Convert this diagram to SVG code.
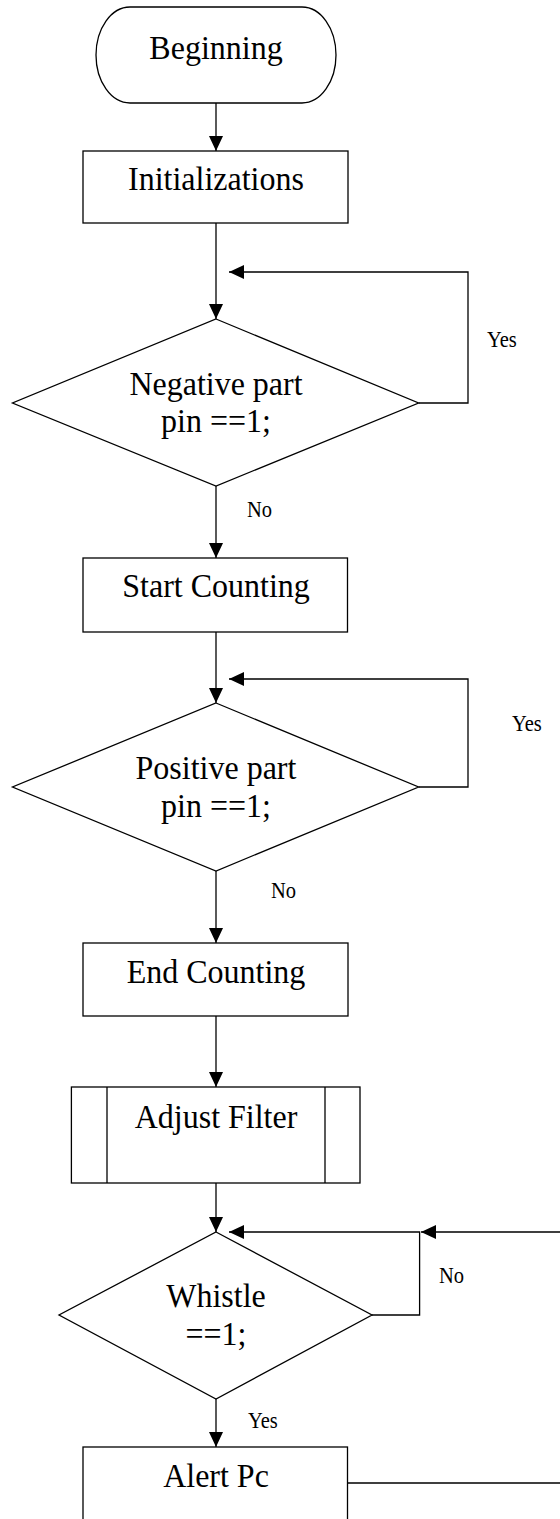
<svg xmlns="http://www.w3.org/2000/svg" width="560" height="1519" viewBox="0 0 560 1519">
<style>
.s{fill:#fff;stroke:#000;stroke-width:1.3}
.c{fill:none;stroke:#000;stroke-width:1.3}
.t{font-family:"Liberation Serif","Times New Roman",serif;font-size:32px;text-anchor:middle;fill:#000}
.l{font-family:"Liberation Serif","Times New Roman",serif;font-size:20.5px;fill:#000}
</style>
<defs>
<marker id="ah" markerUnits="userSpaceOnUse" markerWidth="16" markerHeight="14" refX="15" refY="7" orient="auto">
<path d="M0,0 L15,7 L0,14 z" fill="#000"/>
</marker>
</defs>
<rect width="560" height="1519" fill="#fff"/>
<g id="connectors">
<line class="c" x1="216" y1="103" x2="216" y2="151" marker-end="url(#ah)"/>
<line class="c" x1="216" y1="223" x2="216" y2="319" marker-end="url(#ah)"/>
<polyline class="c" points="418.6,403 468,403 468,272 229,272" marker-end="url(#ah)"/>
<line class="c" x1="216" y1="486" x2="216" y2="558" marker-end="url(#ah)"/>
<line class="c" x1="216" y1="632" x2="216" y2="703" marker-end="url(#ah)"/>
<polyline class="c" points="418.6,787 468,787 468,679 229,679" marker-end="url(#ah)"/>
<line class="c" x1="216" y1="871" x2="216" y2="943" marker-end="url(#ah)"/>
<line class="c" x1="216" y1="1016" x2="216" y2="1087" marker-end="url(#ah)"/>
<line class="c" x1="216" y1="1183" x2="216" y2="1232" marker-end="url(#ah)"/>
<polyline class="c" points="372,1315 419.6,1315 419.6,1232 229,1232" marker-end="url(#ah)"/>
<line class="c" x1="216" y1="1399" x2="216" y2="1447" marker-end="url(#ah)"/>
<polyline class="c" points="347.5,1483 570,1483 570,1232 421,1232" marker-end="url(#ah)"/>
<text class="l" transform="translate(487,347) scale(1,1.08)">Yes</text>
<text class="l" transform="translate(247,517) scale(1,1.08)">No</text>
<text class="l" transform="translate(512,731) scale(1,1.08)">Yes</text>
<text class="l" transform="translate(271,898) scale(1,1.08)">No</text>
<text class="l" transform="translate(439,1283) scale(1,1.08)">No</text>
<text class="l" transform="translate(248,1428) scale(1,1.08)">Yes</text>
</g>
<g id="beginning">
<rect class="s" x="96" y="7" width="240" height="96" rx="34" ry="48"/>
<text class="t" transform="translate(216,59) scale(1,1.08)">Beginning</text>
</g>
<g id="initializations">
<rect class="s" x="83" y="151" width="265" height="72"/>
<text class="t" transform="translate(216,190) scale(1,1.08)">Initializations</text>
</g>
<g id="negative">
<polygon class="s" points="216,319 418.6,403 216,486 12.5,403"/>
<text class="t" transform="translate(216,395) scale(1,1.08)">Negative part</text>
<text class="t" transform="translate(216,432) scale(1,1.08)">pin ==1;</text>
</g>
<g id="start">
<rect class="s" x="83" y="558" width="264.5" height="74"/>
<text class="t" transform="translate(216,597) scale(1,1.08)">Start Counting</text>
</g>
<g id="positive">
<polygon class="s" points="216,703 418.6,787 216,871 12.5,787"/>
<text class="t" transform="translate(216,779) scale(1,1.08)">Positive part</text>
<text class="t" transform="translate(216,817) scale(1,1.08)">pin ==1;</text>
</g>
<g id="end">
<rect class="s" x="83" y="943" width="265" height="73"/>
<text class="t" transform="translate(216,983) scale(1,1.08)">End Counting</text>
</g>
<g id="adjust">
<rect class="s" x="71.4" y="1087" width="288.6" height="96"/>
<line class="c" x1="107" y1="1087" x2="107" y2="1183"/>
<line class="c" x1="325" y1="1087" x2="325" y2="1183"/>
<text class="t" transform="translate(216,1128) scale(1,1.08)">Adjust Filter</text>
</g>
<g id="whistle">
<polygon class="s" points="216,1232 372,1315 216,1399 59,1315"/>
<text class="t" transform="translate(216,1307) scale(1,1.08)">Whistle</text>
<text class="t" transform="translate(216,1345) scale(1,1.08)">==1;</text>
</g>
<g id="alert">
<rect class="s" x="83" y="1447" width="264.5" height="80"/>
<text class="t" transform="translate(216,1487) scale(1,1.08)">Alert Pc</text>
</g>
</svg>
